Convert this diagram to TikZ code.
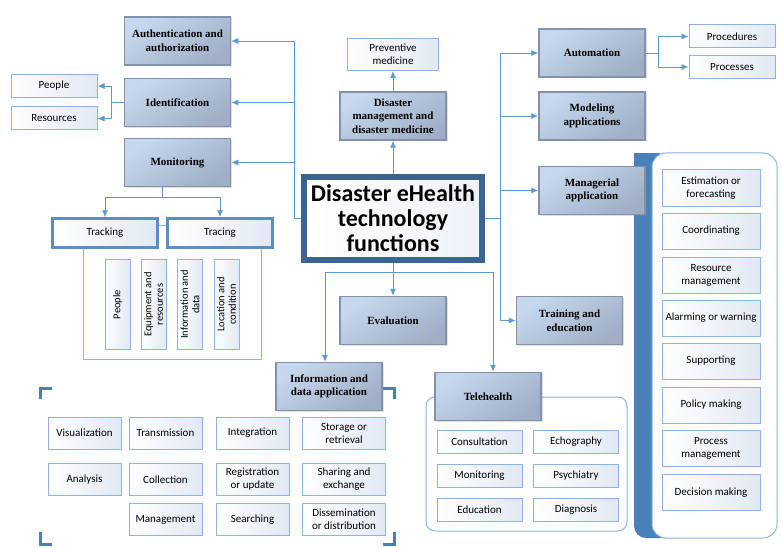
\documentclass[tikz,border=0pt]{standalone}
\usepackage{fontspec}
\setmainfont{Liberation Serif}
\newfontfamily\calfont{Carlito}
\usepackage{xcolor}
\usepackage{tikz}
\usetikzlibrary{arrows.meta}
\usetikzlibrary{calc}
\usetikzlibrary{shadows}
\definecolor{linkblue}{HTML}{5B9BD5}
\definecolor{functop}{HTML}{C6D7EE}
\definecolor{funcbot}{HTML}{A0AFC6}
\definecolor{funcline}{HTML}{8292AC}
\definecolor{itemline}{HTML}{8DB3E2}
\definecolor{itemfill}{HTML}{E2E9F4}
\definecolor{coreline}{HTML}{3B6590}
\definecolor{trackline}{HTML}{5A8EC7}
\definecolor{barblue}{HTML}{4A80B9}
\tikzstyle{func} = [draw=funcline, line width=1.5pt,
	top color=functop, bottom color=funcbot, shading angle=35,
	minimum width=106pt, minimum height=48pt, align=center,
	font=\bfseries\fontsize{11}{13.5}\selectfont,
	drop shadow={opacity=0.25, shadow xshift=1.5pt, shadow yshift=-1.5pt}]
\tikzstyle{item} = [draw=itemline, line width=1pt,
	left color=white, right color=itemfill, align=center, inner sep=1pt,
	font=\calfont\fontsize{11}{13}\selectfont]
\tikzstyle{side} = [item, minimum width=86pt, minimum height=23pt]
\tikzstyle{vitem} = [item, rotate=90, minimum width=90pt, minimum height=25pt,
	inner sep=0pt, font=\calfont\fontsize{10.5}{11.5}\selectfont]
\tikzstyle{ditem} = [item, minimum width=73pt, minimum height=32pt]
\tikzstyle{titem} = [item, minimum width=85pt, minimum height=23pt]
\tikzstyle{mitem} = [item, minimum width=98pt, minimum height=36pt]
\tikzstyle{track} = [item, draw=trackline, line width=2.5pt,
	minimum width=105pt, minimum height=29pt]
\tikzstyle{arrow} = [-{Latex[length=7pt, width=6pt]}, linkblue, line width=0.9pt]
\tikzstyle{link} = [linkblue, line width=0.9pt]
\tikzstyle{frame} = [draw=itemline, line width=1pt]
\tikzstyle{bracket} = [barblue, line width=3pt]

\begin{document}
\begin{tikzpicture}[x=1pt, y=-1pt]
	\useasboundingbox [fill=white] (0,0) rectangle (781,548);
	
	% containers
	\fill [barblue] (634,153) rectangle (660,510);
	\fill [barblue, rounded corners=12pt] (634,480) rectangle (690,538);
	\draw [frame, fill=white, rounded corners=14pt] (652,153) rectangle (777,538);
	\draw [frame, fill=white, rounded corners=9pt] (426,397) rectangle (627,531);
	\draw [frame] (83,249) -- (83,359) -- (261,359) -- (261,249);
	\draw [bracket] (40,399) |- (52,388);
	\draw [bracket] (383,388) -| (394,399);
	\draw [bracket] (40,532) |- (52,544);
	\draw [bracket] (383,544) -| (394,532);
	
	% centre
	\node (core) [draw=coreline, line width=6pt, left color=white, right color=itemfill!60,
		minimum width=178pt, minimum height=83pt, align=center, inner sep=1pt,
		font=\calfont\bfseries\fontsize{24}{25}\selectfont] at (393,218.5)
		{Disaster eHealth\\technology\\functions};
	
	% left side
	\node (auth) [func] at (177.5,41) {Authentication and\\authorization};
	\node (ident) [func] at (177.5,102.5) {Identification};
	\node (monit) [func] at (177.5,162.5) {Monitoring};
	\node (people) [side] at (54,86) {People};
	\node (res) [side] at (54,118.5) {Resources};
	\node (track) [track] at (105,233) {Tracking};
	\node (trace) [track] at (220,233) {Tracing};
	\node (tpeople) [vitem] at (117.5,304.5) {People};
	\node (tequip) [vitem] at (153.5,304.5) {Equipment and\\resources};
	\node (tdata) [vitem] at (190,304.5) {Information and\\data};
	\node (tloc) [vitem] at (226.5,304.5) {Location and\\condition};
	
	% top
	\node (dmed) [func] at (393,116) {Disaster\\management and\\disaster medicine};
	\node (prev) [item, minimum width=91pt, minimum height=32pt] at (393,54.5) {Preventive\\medicine};
	
	% right side
	\node (auto) [func] at (592,53) {Automation};
	\node (model) [func] at (592,116) {Modeling\\applications};
	\node (manag) [func] at (592,190.5) {Managerial\\application};
	\node (proc) [side] at (732,36.5) {Procedures};
	\node (procs) [side] at (732,67) {Processes};
	\node (estim) [mitem] at (711,188) {Estimation or\\forecasting};
	\node (coord) [mitem] at (711,231) {Coordinating};
	\node (resman) [mitem] at (711,275) {Resource\\management};
	\node (alarm) [mitem] at (711,318) {Alarming or warning};
	\node (support) [mitem] at (711,361) {Supporting};
	\node (policy) [mitem] at (711,405) {Policy making};
	\node (procman) [mitem] at (711,448) {Process\\management};
	\node (decis) [mitem] at (711,492.5) {Decision making};
	
	% bottom
	\node (eval) [func] at (393,320.5) {Evaluation};
	\node (train) [func] at (569.5,320.5) {Training and\\education};
	\node (info) [func] at (329,386.5) {Information and\\data application};
	\node (tele) [func] at (488,396.5) {Telehealth};
	\node (consult) [titem] at (479.5,441.5) {Consultation};
	\node (echo) [titem] at (576,441.5) {Echography};
	\node (tmonit) [titem] at (479.5,475.5) {Monitoring};
	\node (psych) [titem] at (576,475.5) {Psychiatry};
	\node (educ) [titem] at (479.5,509.5) {Education};
	\node (diag) [titem] at (576,509.5) {Diagnosis};
	\node (vis) [ditem] at (84.5,433) {Visualization};
	\node (trans) [ditem] at (165.5,433) {Transmission};
	\node (integ) [ditem] at (252.5,433) {Integration};
	\node (store) [ditem, minimum width=83pt] at (344,433) {Storage or\\retrieval};
	\node (anal) [ditem] at (84.5,479.5) {Analysis};
	\node (coll) [ditem] at (165.5,479.5) {Collection};
	\node (regis) [ditem] at (252.5,479.5) {Registration\\or update};
	\node (share) [ditem, minimum width=83pt] at (344,479.5) {Sharing and\\exchange};
	\node (mgmt) [ditem] at (165.5,519.5) {Management};
	\node (search) [ditem] at (252.5,519.5) {Searching};
	\node (dissem) [ditem, minimum width=83pt] at (344,519.5) {Dissemination\\or distribution};
	
	% connectors
	\coordinate (lt) at (294,218.5);
	\draw [link] (core.west) -- (lt);
	\draw [arrow] (lt) |- (auth.east);
	\draw [arrow] (lt) |- (ident.east);
	\draw [arrow] (lt) |- (monit.east);
	
	\coordinate (idj) at (111,102.5);
	\draw [link] (ident.west) -- (idj);
	\draw [arrow] (idj) |- (people.east);
	\draw [arrow] (idj) |- (res.east);
	
	\coordinate (mj) at (162,197);
	\draw [link] (monit.south -| mj) -- (mj);
	\draw [arrow] (mj) -| (track.north);
	\draw [arrow] (mj) -| (trace.north);
	\draw [frame] ([yshift=8pt]track.east) -- ([yshift=8pt]trace.west);
	
	\draw [arrow] (core.north) -- (dmed.south);
	\draw [arrow] (dmed.north) -- (prev.south);
	
	\coordinate (rt) at (500,218.5);
	\draw [link] (core.east) -- (rt);
	\draw [arrow] (rt) |- (auto.west);
	\draw [arrow] (rt) |- (model.west);
	\draw [arrow] (rt) |- (manag.west);
	\draw [arrow] (rt) |- (train.west);
	
	\coordinate (aj) at (658,53);
	\draw [link] (auto.east) -- (aj);
	\draw [arrow] (aj) |- (proc.west);
	\draw [arrow] (aj) |- (procs.west);
	
	\draw [arrow] (core.south) -- (eval.north);
	\coordinate (bl) at (325,272);
	\coordinate (br) at (493,272);
	\draw [link] (bl) -- (br);
	\draw [arrow] (bl) -- (bl |- info.north);
	\draw [arrow] (br) -- (br |- tele.north);
\end{tikzpicture}
\end{document}
